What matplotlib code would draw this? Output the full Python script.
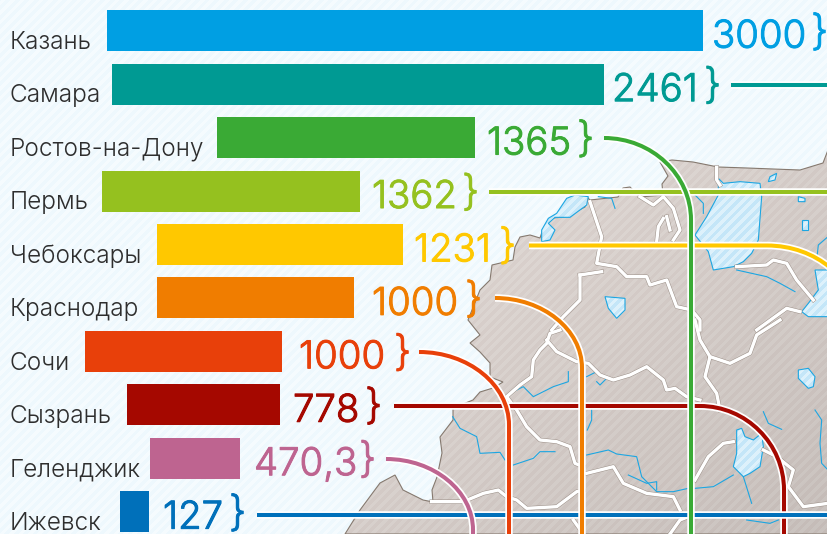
import numpy as np
import matplotlib
matplotlib.use("Agg")
import matplotlib.pyplot as plt
import matplotlib.patheffects as pe
from matplotlib.path import Path
from matplotlib.patches import PathPatch, Polygon

W, H = 828, 534
cities = ["Казань", "Самара", "Ростов-на-Дону", "Пермь", "Чебоксары", "Краснодар", "Сочи", "Сызрань", "Геленджик", "Ижевск"]
value_labels = ["3000", "2461", "1365", "1362", "1231", "1000", "1000", "778", "470,3", "127"]
bar_lengths = [3000, 2476, 1299, 1299, 1238, 992, 992, 770, 453, 146]
bar_left_px = [107, 112, 217, 102, 157, 157, 85, 127, 150, 120]
value_x = [712, 612, 487, 372, 414, 372, 299, 293, 254, 163]
brace_x = [811, 704, 577, 462, 499, 465, 394, 365, 359, 229]
colors = ["#009FE3", "#009A93", "#3AAA35", "#95C11F", "#FFC800", "#F07D00", "#E8400A", "#A50800", "#BE6490", "#0070BA"]

PX = 596 / 3000
ROW0, ROWSTEP, BARH = 30.7, 53.44, 41


def z1(p):
    return [(x / 3 + 480, y / 3 + 130) for x, y in p]


def z2(p):
    return [(x / 3 + 380, y / 3 + 320) for x, y in p]


fig = plt.figure(figsize=(W / 100, H / 100), dpi=100)
ax = fig.add_axes([0, 0, 1, 1])
ax.set_xlim(0, W)
ax.set_ylim(H, 0)
ax.axis("off")

yy, xx = np.mgrid[0:H, 0:W]
stripe = (np.sin((xx + yy) * 2 * np.pi / 9.5) > 0).astype(float)


def image(c0, c1, grad=None):
    c0 = np.array(matplotlib.colors.to_rgb(c0))
    c1 = np.array(matplotlib.colors.to_rgb(c1))
    s = stripe[..., None]
    img = c0 * (1 - s) + c1 * s
    if grad is not None:
        img = np.clip(img - grad[..., None] * 0.13, 0, 1)
    return img


ax.imshow(image("#EEF8FD", "#F5FBFE"), extent=(0, W, H, 0), aspect="auto", zorder=0, interpolation="bilinear")

coast = (
    [(828, 150), (823, 163), (800, 170), (773, 169), (747, 168), (718, 167), (693, 162), (672, 160),
     (660, 162), (668, 176), (662, 184), (663, 195), (640, 197), (630, 187), (623, 188), (618, 197),
     (590, 200), (587, 197), (585, 207), (565, 217), (552, 218), (546, 226), (542, 232), (540, 238),
     (530, 235), (520, 237), (515, 247), (513, 260), (492, 265), (490, 280), (480, 290), (474, 305)]
    + [(468, 320), (480, 335), (470, 343), (480, 352), (490, 363), (490, 377), (503, 382), (493, 388),
       (480, 392), (473, 400), (453, 408), (453, 420), (440, 437), (442, 453), (437, 477), (432, 490),
       (433, 502), (423, 500), (403, 490), (395, 475), (380, 483), (360, 510), (345, 534), (828, 534)]
)
land = Polygon(coast, closed=True, transform=ax.transData, fc="none", ec="#85796F", lw=0.8, zorder=2)
ax.add_patch(land)
grad = np.clip(((xx - 350) / 480 + (yy - 150) / 384) / 2, 0, 1) * 0.9
im = ax.imshow(image("#E2D9D5", "#E7E0DC", grad), extent=(0, W, H, 0), aspect="auto", zorder=1, interpolation="bilinear")
im.set_clip_path(land)

lakes = [
    z1([(230, 250), (260, 205), (285, 195), (325, 200), (320, 225), (270, 262), (225, 262), (205, 280), (225, 300), (210, 330), (185, 335), (185, 300), (205, 265)]),
    z1([(715, 145), (730, 160), (780, 155), (840, 160), (845, 200), (835, 330), (815, 370), (790, 395), (760, 410), (700, 420), (685, 365), (645, 315), (680, 260), (715, 195)]),
    z1([(1044, 420), (1005, 420), (1015, 480), (985, 520), (965, 545), (985, 560), (1044, 560)]),
    z1([(375, 500), (435, 505), (435, 540), (410, 565), (385, 535)]),
    z1([(965, 270), (985, 270), (985, 300), (965, 300)]),
    z1([(955, 200), (975, 205), (975, 215), (955, 215)]),
    z1([(870, 140), (890, 130), (885, 150), (865, 155)]),
    z2([(1255, 150), (1285, 145), (1305, 170), (1300, 200), (1285, 205), (1255, 175)]),
    z2([(1070, 330), (1085, 325), (1095, 350), (1120, 360), (1145, 340), (1150, 380), (1140, 440), (1110, 460), (1090, 470), (1060, 440), (1070, 400)]),
]
lake_img = image("#C4E6F8", "#DDF1FB")
for lk in lakes:
    p = Polygon(lk, closed=True, fc="none", ec="#1CA6E2", lw=0.8, zorder=4)
    ax.add_patch(p)
    i = ax.imshow(lake_img, extent=(0, W, H, 0), aspect="auto", zorder=3, interpolation="bilinear")
    i.set_clip_path(p)

rivers = [
    z2([(218, 290), (240, 325), (290, 350), (300, 400), (360, 397), (375, 420)]),
    z2([(400, 435), (460, 415), (480, 395), (525, 395)]),
    z2([(565, 155), (565, 185), (520, 200), (460, 230), (430, 200), (380, 225)]),
    z2([(620, 405), (685, 390), (710, 402), (770, 410), (785, 470), (830, 515), (880, 515), (925, 505)]),
    z2([(945, 505), (1000, 500), (1060, 465)]),
    z2([(1090, 470), (1115, 550)]),
    z2([(635, 270), (635, 300), (622, 330)]),
    z2([(620, 170), (650, 155), (680, 175), (660, 195), (650, 185)]),
    z2([(1305, 270), (1325, 300), (1320, 370), (1325, 430), (1344, 450)]),
    z2([(745, 465), (800, 490), (830, 485), (830, 510)]),
    z2([(1100, 600), (1170, 610), (1195, 600)]),
    z2([(1150, 275), (1165, 310), (1205, 328)]),
    z1([(1044, 320), (1015, 345), (1010, 390)]),
    z1([(770, 420), (860, 440), (900, 460), (945, 485)]),
    z1([(645, 195), (670, 220), (670, 250)]),
    z1([(355, 200), (395, 205), (405, 235)]),
]
for r in rivers:
    ax.plot(*zip(*r), color="#1CA6E2", lw=0.8, zorder=4, solid_joinstyle="round")

borders = [
    z2([(540, 30), (510, 40), (500, 70), (480, 90), (460, 120), (455, 170), (420, 195), (380, 230), (410, 270), (440, 320), (480, 360), (530, 365), (570, 380), (585, 430), (610, 440)]),
    z2([(500, 60), (530, 95), (590, 125), (625, 130), (660, 165), (700, 180), (750, 165), (800, 140), (850, 180), (860, 210), (885, 205), (920, 230), (960, 240)]),
    z2([(945, 0), (960, 60), (990, 110), (975, 170), (1010, 220), (1020, 270)]),
    z2([(990, 110), (1050, 130), (1110, 100), (1130, 45), (1200, 0)]),
    z2([(620, 460), (700, 440), (730, 490), (800, 520), (880, 530), (900, 570)]),
    z2([(945, 480), (985, 410), (1030, 370), (1060, 365)]),
    z2([(1150, 390), (1190, 410), (1240, 450), (1225, 500), (1270, 560), (1344, 550)]),
    z2([(155, 545), (250, 545), (310, 520), (355, 510), (380, 530), (410, 540), (440, 565), (530, 560), (590, 515), (610, 510)]),
    z2([(580, 600), (610, 642)]),
    z2([(870, 642), (900, 600), (925, 590)]),
    z1([(330, 215), (345, 260), (365, 320), (350, 400), (410, 410), (440, 440), (500, 440), (510, 465), (560, 450), (590, 530), (635, 540), (660, 570), (660, 600)]),
    z1([(300, 435), (365, 425)]),
    z1([(300, 435), (300, 510), (250, 560), (215, 600)]),
    z1([(480, 200), (520, 225), (550, 200), (580, 235), (600, 300), (580, 330)]),
    z1([(550, 265), (535, 290), (530, 335)]),
    z1([(560, 260), (570, 300)]),
    z1([(710, 112), (710, 150), (720, 165)]),
    z1([(830, 600), (920, 535), (960, 545)]),
    z1([(770, 410), (860, 405), (880, 390), (920, 400), (950, 450), (1000, 510)]),
]
for b in borders:
    ax.plot(*zip(*b), color="#9A8E86", lw=3.1, zorder=5, solid_joinstyle="round")
    ax.plot(*zip(*b), color="white", lw=2.4, zorder=5.1, solid_joinstyle="round")


def leader(i, path_pts, codes, z):
    path = Path(path_pts, codes)
    ax.add_patch(PathPatch(path, fc="none", ec="white", lw=5.4, capstyle="butt", zorder=z))
    ax.add_patch(PathPatch(path, fc="none", ec=colors[i], lw=2.9, capstyle="butt", zorder=z + 0.01))


def curved(start, corner_x, end_y, arc_start_x, arc_end_y):
    dx = corner_x - arc_start_x
    dy = arc_end_y - start[1]
    pts = [start, (arc_start_x, start[1]),
           (arc_start_x + dx * 0.55, start[1]), (corner_x, arc_end_y - dy * 0.55), (corner_x, arc_end_y),
           (corner_x, end_y)]
    codes = [Path.MOVETO, Path.LINETO, Path.CURVE4, Path.CURVE4, Path.CURVE4, Path.LINETO]
    return pts, codes


straight = [Path.MOVETO, Path.LINETO]
leader(1, [(731, 85), (830, 85)], straight, 10)
pts, c = curved((394, 406), 784, 540, 700, 490)
leader(7, pts, c, 11)
leader(9, [(257, 515), (830, 515)], straight, 12)
leader(3, [(489, 191.5), (830, 191.5)], straight, 13)
pts, c = curved((386, 459), 473, 540, 386, 530)
leader(8, pts, c, 14)
pts, c = curved((419, 352), 509, 540, 419, 425)
leader(6, pts, c, 15)
pts, c = curved((495, 298), 582, 540, 495, 368)
leader(5, pts, c, 16)
pts, c = curved((529, 245.5), 856, 540, 767, 320)
leader(4, pts, c, 17)
pts, c = curved((604, 138), 691, 540, 604, 220)
leader(2, pts, c, 18)

FONT = "Inter"
for i, name in enumerate(cities):
    yc = ROW0 + ROWSTEP * i
    ax.text(10, yc + 18.3, name, fontsize=17.6, family=FONT, weight=300, color="#2E2E2E", va="baseline", ha="left", zorder=30)
    for txt, x, dy, size, sw in ((value_labels[i], value_x[i], 17, 27.6, 0.7), ("}", brace_x[i], 14, 30, 0.6)):
        t = ax.text(x, yc + dy, txt, fontsize=size, family=FONT, weight=300, color=colors[i], va="baseline", ha="left", zorder=30)
        t.set_path_effects([pe.withStroke(linewidth=sw, foreground=colors[i])])

axb = fig.add_axes([0, 0, 1, 1], zorder=5)
axb.patch.set_alpha(0)
axb.set_xlim(0, W / PX)
axb.set_ylim((H - ROW0) / ROWSTEP, -ROW0 / ROWSTEP)
axb.axis("off")
axb.barh(range(len(cities)), bar_lengths, left=np.array(bar_left_px) / PX, height=BARH / ROWSTEP, color=colors)

fig.savefig("out.png", dpi=100)
